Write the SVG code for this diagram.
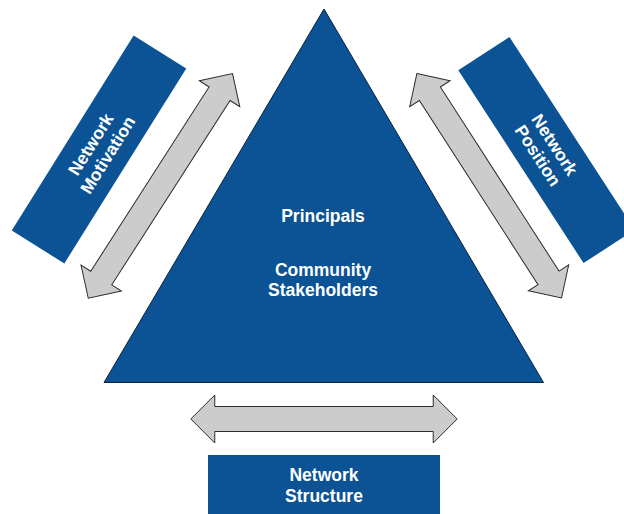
<svg xmlns="http://www.w3.org/2000/svg" width="624" height="514" viewBox="0 0 624 514">
  <defs>
    <style>
      .box { fill: #0b5394; }
      .tri { fill: #0b5394; stroke: #0a2240; stroke-width: 1; stroke-linejoin: miter; }
      .label { fill: #ffffff; font-family: "Liberation Sans", Arial, sans-serif; font-weight: bold; font-size: 17.5px; text-anchor: middle; }
      .arrow { fill: #cccccc; stroke: #2b2b2b; stroke-width: 1; stroke-linejoin: miter; }
    </style>
    <!-- double-headed block arrow, 267 long, centred on the origin -->
    <polygon id="dbl" class="arrow" points="-133.5,0 -109.5,-24 -109.5,-12.5 109.5,-12.5 109.5,-24 133.5,0 109.5,24 109.5,12.5 -109.5,12.5 -109.5,24"/>
  </defs>

  <rect width="624" height="514" fill="#ffffff"/>

  <g id="core">
    <polygon class="tri" points="324,9 543.5,382.5 104,382.5"/>
    <text class="label" x="323" y="221.5">Principals</text>
    <text class="label" x="323" y="276">Community</text>
    <text class="label" x="323" y="296">Stakeholders</text>
  </g>

  <g id="motivation" transform="translate(99,149.5) rotate(-58)">
    <rect class="box" x="-115" y="-31" width="230" height="62"/>
    <text class="label" x="0" y="-3.7">Network</text>
    <text class="label" x="0" y="16.3">Motivation</text>
  </g>

  <g id="position" transform="translate(546.5,150) rotate(57)">
    <rect class="box" x="-115" y="-30.5" width="230" height="61"/>
    <text class="label" x="0" y="-3.7">Network</text>
    <text class="label" x="0" y="16.3">Position</text>
  </g>

  <g id="structure">
    <rect class="box" x="208" y="455" width="232" height="70"/>
    <text class="label" x="324" y="481">Network</text>
    <text class="label" x="324" y="502">Structure</text>
  </g>

  <g id="connectors">
    <use href="#dbl" transform="translate(160.4,185.9) rotate(-57.3)"/>
    <use href="#dbl" transform="translate(489.2,185.8) rotate(57.2)"/>
    <use href="#dbl" transform="translate(324,419) scale(0.9975,1)"/>
  </g>
</svg>
